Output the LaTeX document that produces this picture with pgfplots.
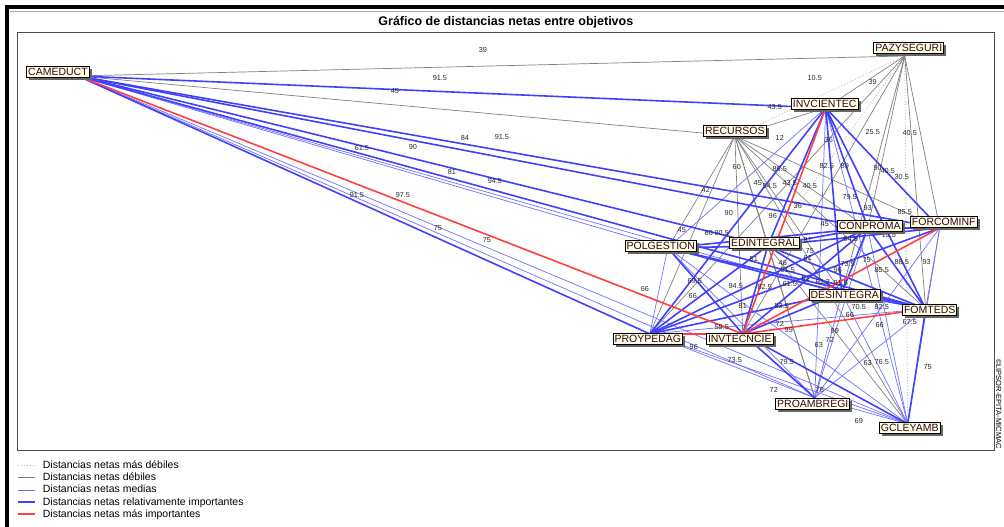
\documentclass[border=0pt]{standalone}
\usepackage{pgfplots}
\pgfplotsset{compat=1.18}
\usepackage{fontspec}
\setmainfont{Liberation Sans}
\usetikzlibrary{shadows}

\definecolor{dimg}{RGB}{185,185,185}
\definecolor{weakg}{RGB}{128,128,128}
\definecolor{medb}{RGB}{112,112,255}
\definecolor{relb}{RGB}{64,64,255}
\definecolor{topr}{RGB}{255,64,64}
\definecolor{cream}{RGB}{255,255,225}
\definecolor{labtxt}{RGB}{50,0,40}

\tikzset{
  dim/.style={dimg, dash pattern=on 1pt off 2pt, line width=0.8pt},
  weak/.style={weakg, line width=0.7pt},
  med/.style={medb, line width=0.7pt},
  rel/.style={relb, line width=1.6pt},
  top/.style={topr, line width=1.6pt},
}

\begin{document}
\begin{tikzpicture}
\begin{axis}[
    scale only axis,
    width=978pt, height=419pt,
    xmin=17, xmax=995, ymin=32, ymax=451,
    y dir=reverse,
    xtick=\empty, ytick=\empty,
    axis line style={black!70, line width=0.8pt},
    clip=false,
    title={Gráfico de distancias netas entre objetivos},
    title style={font=\bfseries\fontsize{12.5}{14}\selectfont, inner sep=0pt, yshift=-2pt},
    legend style={draw=none, fill=none, at={(0.0,-0.021)}, anchor=north west,
      font=\fontsize{10.5}{11.5}\selectfont, row sep=1pt, inner sep=0pt,
      nodes={inner sep=1pt},
      /tikz/every odd column/.append style={column sep=6pt}},
    legend cell align=left,
    every axis plot/.append style={forget plot},
  ]
  % frame of the window
  \path (axis cs:0,0) rectangle (axis cs:1004,527);
  \fill[black] (axis cs:5,5) rectangle (axis cs:1004,9.5);
  \fill[black] (axis cs:5,5) rectangle (axis cs:9.5,527);
  \draw[gray!70, line width=0.6pt] (axis cs:10,11.5) -- (axis cs:1004,11.5);

  % distancias mas debiles
  \addplot[dim] coordinates {(905,56) (735,136)};
  \addplot[dim] coordinates {(905,56) (908,424)};
  \addplot[dim] coordinates {(905,56) (768,246)};
  \addplot[dim] coordinates {(905,56) (815,398)};

  % distancias debiles
  \addplot[weak] coordinates {(78,76) (905,56)};
  \addplot[weak] coordinates {(78,76) (735,136)};
  \addplot[weak] coordinates {(905,56) (826,108)};
  \addplot[weak] coordinates {(905,56) (868,228)};
  \addplot[weak] coordinates {(905,56) (842,293)};
  \addplot[weak] coordinates {(905,56) (940,228)};
  \addplot[weak] coordinates {(905,56) (926,309)};
  \addplot[weak] coordinates {(905,56) (650,334)};
  \addplot[weak] coordinates {(905,56) (743,334)};
  \addplot[weak] coordinates {(826,108) (735,136)};
  \addplot[weak] coordinates {(735,136) (668,248)};
  \addplot[weak] coordinates {(735,136) (650,334)};
  \addplot[weak] coordinates {(735,136) (743,334)};
  \addplot[weak] coordinates {(735,136) (768,246)};
  \addplot[weak] coordinates {(735,136) (842,293)};
  \addplot[weak] coordinates {(735,136) (868,228)};
  \addplot[weak] coordinates {(735,136) (940,228)};
  \addplot[weak] coordinates {(735,136) (926,309)};
  \addplot[weak] coordinates {(735,136) (815,398)};
  \addplot[weak] coordinates {(735,136) (908,424)};
  \addplot[weak] coordinates {(940,228) (926,309)};
  \addplot[weak] coordinates {(908,424) (768,246)};
  \addplot[weak] coordinates {(815,398) (768,246)};

  % distancias medias
  \addplot[med] coordinates {(826,108) (668,248)};
  \addplot[med] coordinates {(78,76) (842,293)};
  \addplot[med] coordinates {(78,76) (668,248)};
  \addplot[med] coordinates {(78,76) (908,424)};
  \addplot[med] coordinates {(78,76) (815,398)};
  \addplot[med] coordinates {(668,248) (650,334)};
  \addplot[med] coordinates {(668,248) (908,424)};
  \addplot[med] coordinates {(668,248) (815,398)};
  \addplot[med] coordinates {(650,334) (815,398)};
  \addplot[med] coordinates {(650,334) (908,424)};
  \addplot[med] coordinates {(826,108) (815,398)};
  \addplot[med] coordinates {(826,108) (908,424)};
  \addplot[med] coordinates {(815,398) (940,228)};
  \addplot[med] coordinates {(815,398) (926,309)};
  \addplot[med] coordinates {(815,398) (908,424)};
  \addplot[med] coordinates {(815,398) (842,293)};
  \addplot[med] coordinates {(815,398) (868,228)};
  \addplot[med] coordinates {(908,424) (940,228)};
  \addplot[med] coordinates {(908,424) (842,293)};
  \addplot[med] coordinates {(908,424) (868,228)};
  \addplot[med] coordinates {(650,334) (926,309)};

  % distancias relativamente importantes
  \addplot[rel] coordinates {(78,76) (826,108)};
  \addplot[rel] coordinates {(78,76) (940,228)};
  \addplot[rel] coordinates {(78,76) (868,228)};
  \addplot[rel] coordinates {(78,76) (768,246)};
  \addplot[rel] coordinates {(78,76) (926,309)};
  \addplot[rel] coordinates {(78,76) (650,334)};
  \addplot[rel] coordinates {(826,108) (650,334)};
  \addplot[rel] coordinates {(826,108) (768,246)};
  \addplot[rel] coordinates {(826,108) (842,293)};
  \addplot[rel] coordinates {(826,108) (868,228)};
  \addplot[rel] coordinates {(826,108) (926,309)};
  \addplot[rel] coordinates {(826,108) (940,228)};
  \addplot[rel] coordinates {(650,334) (868,228)};
  \addplot[rel] coordinates {(650,334) (940,228)};
  \addplot[rel] coordinates {(650,334) (768,246)};
  \addplot[rel] coordinates {(650,334) (842,293)};
  \addplot[rel] coordinates {(743,334) (868,228)};
  \addplot[rel] coordinates {(743,334) (842,293)};
  \addplot[rel] coordinates {(743,334) (768,246)};
  \addplot[rel] coordinates {(743,334) (908,424)};
  \addplot[rel] coordinates {(743,334) (815,398)};
  \addplot[rel] coordinates {(743,334) (668,248)};
  \addplot[rel] coordinates {(668,248) (868,228)};
  \addplot[rel] coordinates {(668,248) (842,293)};
  \addplot[rel] coordinates {(668,248) (926,309)};
  \addplot[rel] coordinates {(668,248) (768,246)};
  \addplot[rel] coordinates {(768,246) (926,309)};
  \addplot[rel] coordinates {(768,246) (868,228)};
  \addplot[rel] coordinates {(768,246) (842,293)};
  \addplot[rel] coordinates {(768,246) (940,228)};
  \addplot[rel] coordinates {(842,293) (926,309)};
  \addplot[rel] coordinates {(842,293) (868,228)};
  \addplot[rel] coordinates {(868,228) (940,228)};
  \addplot[rel] coordinates {(868,228) (926,309)};
  \addplot[rel] coordinates {(926,309) (908,424)};

  % distancias mas importantes
  \addplot[top] coordinates {(78,76) (743,334)};
  \addplot[top] coordinates {(826,108) (743,334)};
  \addplot[top] coordinates {(940,228) (743,334)};
  \addplot[top] coordinates {(926,309) (743,334)};
  \addplot[top] coordinates {(650,334) (743,334)};

  % valores de las distancias
  \addplot[draw=none, mark=none, nodes near coords, point meta=explicit symbolic,
    nodes near coords style={anchor=center, inner sep=0pt,
      font=\fontsize{7.3}{7.3}\selectfont, text=black!85}]
    table[meta=lab] {
x y lab
483 50 39
815 78 10.5
873 82 39
440 78 91.5
395 91 45
775 107 43.5
465 138 84
502 137 91.5
362 148 61.5
413 147 90
452 172 81
495 181 94.5
357 195 91.5
403 195 97.5
438 228 75
487 240 75
780 138 12
873 132 25.5
910 133 40.5
737 167 60
829 140 36
827 166 82.5
845 166 89
878 168 90
888 171 40.5
902 177 30.5
780 169 86.5
706 190 42
758 183 45
770 186 54.5
790 183 43.5
810 186 40.5
850 197 79.5
729 213 90
773 216 96
798 206 36
868 208 93
905 212 85.5
682 230 45
709 233 60
722 233 90.5
825 224 45
808 240 81
851 239 94.5
889 235 19.5
810 251 75
808 258 61
848 264 73.5
867 260 75
902 262 88.5
927 262 93
882 270 85.5
754 259 51
783 263 46
788 270 91.5
838 270 96
645 289 66
695 281 69.5
693 296 66
736 286 94.5
765 287 82.5
790 284 61.5
806 279 51
823 282 62.2
841 283 91.5
859 307 70.5
882 307 82.5
743 306 81
782 306 53.5
850 315 66
880 325 66
910 322 67.5
722 327 55.5
780 324 72
789 330 99
694 347 96
835 331 99
830 340 72
819 345 63
735 360 73.5
787 362 79.5
868 363 63
882 362 76.5
928 367 75
774 390 72
820 390 76
859 421 69
};

  % objetivos
  \addplot[draw=none, mark=none, nodes near coords, point meta=explicit symbolic,
    nodes near coords style={anchor=center, draw=black, line width=0.8pt,
      fill=cream, text=labtxt, inner xsep=1.5pt, inner ysep=1.5pt,
      font=\fontsize{10.5}{11}\selectfont,
      drop shadow={shadow xshift=2.6pt, shadow yshift=-2.6pt, fill=black!60, opacity=1}}]
    table[meta=lab] {
x y lab
58 72 CAMEDUCT
909 48 PAZYSEGURI
825 104 INVCIENTEC
735 131 RECURSOS
870 226 CONPROMA
944 222 FORCOMINF
661 246 POLGESTION
765 243 EDINTEGRAL
845 295 DESINTEGRA
930 310 FOMTEDS
648 339 PROYPEDAG
740 339 INVTECNCIE
813 404 PROAMBREGI
910 428 GCLEYAMB
};

  \node[rotate=-90, anchor=east, inner sep=0pt, font=\fontsize{7.5}{8}\selectfont]
    at (axis cs:999,449) {©LIPSOR-EPITA-MICMAC};

  \addlegendimage{dim}
  \addlegendentry{Distancias netas más débiles}
  \addlegendimage{weak}
  \addlegendentry{Distancias netas débiles}
  \addlegendimage{med}
  \addlegendentry{Distancias netas medias}
  \addlegendimage{rel}
  \addlegendentry{Distancias netas relativamente importantes}
  \addlegendimage{top}
  \addlegendentry{Distancias netas más importantes}
\end{axis}
\end{tikzpicture}
\end{document}
